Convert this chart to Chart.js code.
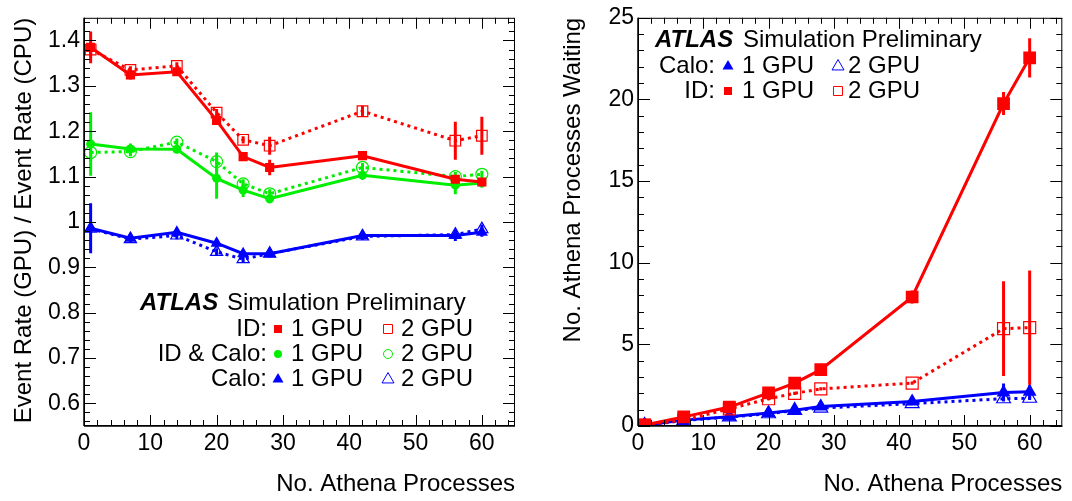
<!DOCTYPE html>
<html>
<head>
<meta charset="utf-8">
<script src="https://cdn.jsdelivr.net/npm/chart.js@4/dist/chart.umd.min.js"></script>
<style>
  body { margin: 0; background: #fff; }
  #wrap { position: relative; width: 1072px; height: 501px; }
  canvas { position: absolute; top: 0; }
</style>
</head>
<body>
<div id="wrap">
  <canvas id="ratioChart" width="536" height="501" style="left:0"></canvas>
  <canvas id="waitChart" width="536" height="501" style="left:536px"></canvas>
</div>
<script>
// number of Athena processes (x of every point)
const procs = [1, 7, 14, 20, 24, 28, 42, 56, 60];

// left panel: event rate ratio GPU / CPU
const ratioId1 = [1.385, 1.324, 1.331, 1.224, 1.144, 1.120, 1.146, 1.094, 1.088];
const ratioId1Err = [0.035, 0.010, 0.008, 0.010, 0.006, 0.017, 0.008, 0.010, 0.008];
const ratioId2 = [1.380, 1.335, 1.344, 1.241, 1.181, 1.168, 1.244, 1.179, 1.190];
const ratioId2Err = [0.015, 0.008, 0.008, 0.008, 0.008, 0.020, 0.012, 0.042, 0.042];
const ratioBoth1 = [1.172, 1.161, 1.160, 1.096, 1.070, 1.051, 1.103, 1.081, 1.086];
const ratioBoth1Err = [0.070, 0.012, 0.008, 0.045, 0.015, 0.010, 0.010, 0.020, 0.010];
const ratioBoth2 = [1.153, 1.155, 1.176, 1.133, 1.084, 1.062, 1.120, 1.100, 1.105];
const ratioBoth2Err = [0.020, 0.010, 0.008, 0.020, 0.010, 0.010, 0.010, 0.010, 0.008];
const ratioCalo1 = [0.986, 0.964, 0.977, 0.953, 0.930, 0.930, 0.970, 0.970, 0.977];
const ratioCalo1Err = [0.055, 0.010, 0.008, 0.010, 0.008, 0.008, 0.008, 0.012, 0.010];
const ratioCalo2 = [0.985, 0.962, 0.970, 0.934, 0.918, 0.930, 0.968, 0.972, 0.984];
const ratioCalo2Err = [0.010, 0.008, 0.008, 0.008, 0.008, 0.008, 0.008, 0.008, 0.010];

// right panel: number of Athena processes waiting
const waitId1 = [0.06, 0.56, 1.16, 2.03, 2.63, 3.45, 7.9, 19.75, 22.55];
const waitId1Err = [0.05, 0.05, 0.10, 0.15, 0.15, 0.15, 0.40, 0.70, 1.20];
const waitId2 = [0.06, 0.36, 1.05, 1.67, 2.00, 2.27, 2.63, 5.96, 6.03];
const waitId2Err = [0.05, 0.05, 0.10, 0.10, 0.10, 0.10, 0.10, 2.90, 3.50];
const waitCalo1 = [0.05, 0.36, 0.56, 0.80, 0.96, 1.20, 1.50, 2.05, 2.10];
const waitCalo1Err = [0.05, 0.05, 0.05, 0.05, 0.05, 0.10, 0.10, 0.55, 0.40];
const waitCalo2 = [0.04, 0.33, 0.55, 0.75, 0.95, 1.10, 1.37, 1.67, 1.70];
const waitCalo2Err = [0.03, 0.03, 0.03, 0.03, 0.05, 0.05, 0.08, 0.10, 0.10];

// axis ticks
const xTicks = [0, 10, 20, 30, 40, 50, 60];
const ratioTicks = [0.6, 0.7, 0.8, 0.9, 1.0, 1.1, 1.2, 1.3, 1.4];
const ratioTickLabels = ['0.6', '0.7', '0.8', '0.9', '1', '1.1', '1.2', '1.3', '1.4'];
const waitTicks = [0, 5, 10, 15, 20, 25];

const RED = '#ff0000', GREEN = '#00ee00', BLUE = '#0000ff';
const FONT = '"Liberation Sans", Arial, Helvetica, sans-serif';

function series(label, ys, errs, color, shape, filled, r) {
    return {
        label: label,
        data: procs.map((x, i) => ({ x: x, y: ys[i] })),
        errors: errs,
        borderColor: color,
        borderWidth: 3,
        borderDash: filled ? [] : [3, 4],
        pointStyle: shape,
        pointRadius: r,
        pointBackgroundColor: filled ? color : 'rgba(0,0,0,0)',
        pointBorderColor: color,
        pointBorderWidth: filled ? 0 : 1.2,
        tension: 0
    };
}

// vertical error bars, drawn under the markers
const errorBars = {
    id: 'errorBars',
    beforeDatasetsDraw(chart) {
        const ctx = chart.ctx, ys = chart.scales.y, a = chart.chartArea;
        ctx.save();
        ctx.beginPath();
        ctx.rect(a.left, a.top, a.right - a.left, a.bottom - a.top);
        ctx.clip();
        chart.data.datasets.forEach((ds, di) => {
            const meta = chart.getDatasetMeta(di);
            ctx.strokeStyle = ds.borderColor;
            ctx.lineWidth = 3;
            ds.data.forEach((p, i) => {
                const e = ds.errors[i];
                const x = meta.data[i].x;
                ctx.beginPath();
                ctx.moveTo(x, ys.getPixelForValue(p.y - e));
                ctx.lineTo(x, ys.getPixelForValue(p.y + e));
                ctx.stroke();
            });
        });
        ctx.restore();
    }
};

// ROOT-like frame with inward major/minor ticks on all four sides
function frameTicks(yMinor, yMajor) {
    return {
        id: 'frameTicks',
        afterDatasetsDraw(chart) {
            const ctx = chart.ctx, a = chart.chartArea;
            const xs = chart.scales.x, ys = chart.scales.y;
            ctx.save();
            ctx.strokeStyle = '#000';
            ctx.lineWidth = 1;
            ctx.strokeRect(a.left + 0.5, a.top + 0.5, a.right - a.left - 1, a.bottom - a.top - 1);
            ctx.lineWidth = 1.5;
            ctx.beginPath();
            ctx.moveTo(a.left, a.bottom); ctx.lineTo(a.right, a.bottom);
            ctx.moveTo(a.left, a.top); ctx.lineTo(a.left, a.bottom);
            ctx.stroke();
            ctx.lineWidth = 1;
            ctx.beginPath();
            for (let v = 0; v <= xs.max + 1e-9; v += 2) {
                const px = Math.round(xs.getPixelForValue(v)) + 0.5;
                const len = Math.abs(v % 10) < 1e-9 ? 11 : 6;
                ctx.moveTo(px, a.bottom); ctx.lineTo(px, a.bottom - len);
                ctx.moveTo(px, a.top); ctx.lineTo(px, a.top + len);
            }
            const n0 = Math.ceil(ys.min / yMinor - 1e-6);
            const n1 = Math.floor(ys.max / yMinor + 1e-6);
            for (let n = n0; n <= n1; n++) {
                const v = n * yMinor;
                const py = Math.round(ys.getPixelForValue(v)) + 0.5;
                const q = v / yMajor;
                const len = Math.abs(q - Math.round(q)) < 1e-6 ? 12 : 6;
                ctx.moveTo(a.left, py); ctx.lineTo(a.left + len, py);
                ctx.moveTo(a.right, py); ctx.lineTo(a.right - len, py);
            }
            ctx.stroke();
            ctx.restore();
        }
    };
}

function drawMarker(ctx, shape, filled, color, x, y, s) {
    ctx.save();
    ctx.beginPath();
    if (shape === 'rect') {
        ctx.rect(x - s / 2, y - s / 2, s, s);
    } else if (shape === 'circle') {
        ctx.arc(x, y, s / 2, 0, Math.PI * 2);
    } else {
        const h = s * 0.866;
        ctx.moveTo(x, y - h * 0.62);
        ctx.lineTo(x + s / 2, y + h * 0.38);
        ctx.lineTo(x - s / 2, y + h * 0.38);
        ctx.closePath();
    }
    if (filled) { ctx.fillStyle = color; ctx.fill(); }
    else { ctx.strokeStyle = color; ctx.lineWidth = 1; ctx.stroke(); }
    ctx.restore();
}

// ATLAS label and legend block: rows of [name, color, shape]
function atlasLegend(x0, yTop, simX, labelRight, m1, t1, m2, t2, rows) {
    return {
        id: 'atlasLegend',
        afterDraw(chart) {
            const ctx = chart.ctx;
            ctx.save();
            ctx.fillStyle = '#000';
            ctx.textBaseline = 'middle';
            ctx.font = 'italic bold 24px ' + FONT;
            ctx.fillText('ATLAS', x0, yTop);
            ctx.font = '24px ' + FONT;
            ctx.fillText('Simulation Preliminary', simX, yTop);
            rows.forEach((r, i) => {
                const y = yTop + 26 + i * 25;
                ctx.textAlign = 'right';
                ctx.fillStyle = '#000';
                ctx.fillText(r[0], labelRight, y);
                ctx.textAlign = 'left';
                drawMarker(ctx, r[2], true, r[1], m1, y, r[2] === 'triangle' ? 11 : 8);
                ctx.fillStyle = '#000';
                ctx.fillText('1 GPU', t1, y);
                drawMarker(ctx, r[2], false, r[1], m2, y, r[2] === 'triangle' ? 12 : 9);
                ctx.fillStyle = '#000';
                ctx.fillText('2 GPU', t2, y);
            });
            ctx.restore();
        }
    };
}

function makeChart(id, datasets, y, box, plugins) {
    return new Chart(document.getElementById(id), {
        type: 'line',
        data: { datasets: datasets },
        plugins: [errorBars].concat(plugins),
        options: {
            responsive: false,
            animation: false,
            layout: { padding: { left: 0, right: box.right, top: box.top, bottom: 0 } },
            plugins: { legend: { display: false }, tooltip: { enabled: false } },
            scales: {
                x: {
                    type: 'linear', min: 0, max: 65,
                    afterFit: s => { s.height = 75; },
                    afterBuildTicks: s => { s.ticks = xTicks.map(v => ({ value: v })); },
                    grid: { display: false, drawTicks: false },
                    border: { display: false },
                    ticks: { color: '#000', padding: 4, maxRotation: 0, font: { family: FONT, size: 23 } },
                    title: {
                        display: true, text: 'No. Athena Processes', align: 'end', color: '#000',
                        padding: { top: 0, bottom: 2 }, font: { family: FONT, size: 24 }
                    }
                },
                y: {
                    type: 'linear', min: y.min, max: y.max,
                    afterFit: s => { s.width = box.left; },
                    afterBuildTicks: s => { s.ticks = y.ticks.map(v => ({ value: v })); },
                    grid: { display: false, drawTicks: false },
                    border: { display: false },
                    ticks: {
                        color: '#000', padding: 4, font: { family: FONT, size: 23 },
                        callback: (v, i) => y.labels[i]
                    },
                    title: {
                        display: true, text: y.title, align: 'end', color: '#000',
                        padding: { top: y.titlePad, bottom: 0 }, font: { family: FONT, size: 24 }
                    }
                }
            }
        }
    });
}

// left: event rate ratio
makeChart('ratioChart', [
    series('ID 1 GPU', ratioId1, ratioId1Err, RED, 'rect', true, 6.5),
    series('ID 2 GPU', ratioId2, ratioId2Err, RED, 'rect', false, 7.5),
    series('ID & Calo 1 GPU', ratioBoth1, ratioBoth1Err, GREEN, 'circle', true, 4.5),
    series('ID & Calo 2 GPU', ratioBoth2, ratioBoth2Err, GREEN, 'circle', false, 6),
    series('Calo 1 GPU', ratioCalo1, ratioCalo1Err, BLUE, 'triangle', true, 7),
    series('Calo 2 GPU', ratioCalo2, ratioCalo2Err, BLUE, 'triangle', false, 7)
], {
    min: 0.55, max: 1.45, ticks: ratioTicks, labels: ratioTickLabels,
    title: 'Event Rate (GPU) / Event Rate (CPU)', titlePad: 10
}, { left: 84, right: 21, top: 14 }, [
    frameTicks(0.02, 0.1),
    atlasLegend(140, 303, 227, 267, 278, 291, 388, 401, [
        ['ID:', RED, 'rect'],
        ['ID & Calo:', GREEN, 'circle'],
        ['Calo:', BLUE, 'triangle']
    ])
]);

// right: processes waiting
makeChart('waitChart', [
    series('ID 1 GPU', waitId1, waitId1Err, RED, 'rect', true, 9),
    series('ID 2 GPU', waitId2, waitId2Err, RED, 'rect', false, 8.5),
    series('Calo 1 GPU', waitCalo1, waitCalo1Err, BLUE, 'triangle', true, 8),
    series('Calo 2 GPU', waitCalo2, waitCalo2Err, BLUE, 'triangle', false, 8)
], {
    min: 0, max: 25, ticks: waitTicks, labels: waitTicks.map(String),
    title: 'No. Athena Processes Waiting', titlePad: 23
}, { left: 102, right: 3, top: 13 }, [
    frameTicks(1, 5),
    atlasLegend(119, 40, 207, 179, 192, 206, 302, 312, [
        ['Calo:', BLUE, 'triangle'],
        ['ID:', RED, 'rect']
    ])
]);
</script>
</body>
</html>
